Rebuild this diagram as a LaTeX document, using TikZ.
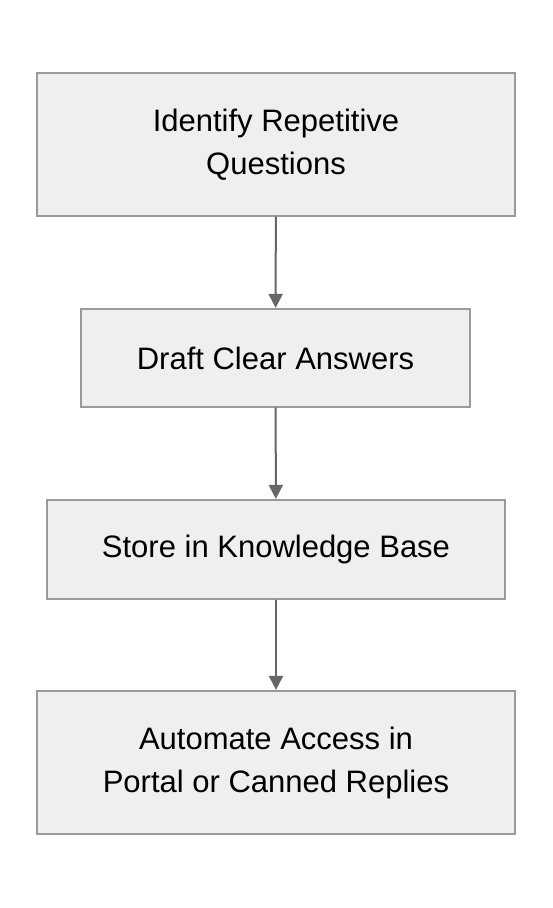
\documentclass[tikz,border=0pt]{standalone}
\usepackage{fontspec}
\setmainfont{Liberation Sans}
\usetikzlibrary{arrows.meta}
\definecolor{boxfill}{HTML}{EFEFEF}
\definecolor{boxline}{HTML}{9A9A9A}
\definecolor{arrowcol}{HTML}{666666}
\tikzset{
    stepbox/.style={draw=boxline, fill=boxfill, line width=1.2pt, align=center, inner sep=0pt,
        font=\fontsize{31}{43}\selectfont},
    flow/.style={-{Triangle[width=14pt,length=14pt]}, draw=arrowcol, fill=arrowcol, line width=2pt, shorten >=0.5pt}
}
\begin{document}
\begin{tikzpicture}[x=1pt,y=-1pt]
        \useasboundingbox (0,0) rectangle (552,908);
        \node[stepbox, minimum width=478pt, minimum height=143pt] (identify) at (276,144.5) {Identify Repetitive\\Questions};
        \node[stepbox, minimum width=389pt, minimum height=98pt] (draft) at (275.5,358) {Draft Clear Answers};
        \node[stepbox, minimum width=458pt, minimum height=99pt] (store) at (276,549.5) {Store in Knowledge Base};
        \node[stepbox, minimum width=478pt, minimum height=143pt] (automate) at (276,762.5) {Automate Access in\\Portal or Canned Replies};
        \draw[flow] (identify) -- (draft);
        \draw[flow] (draft) -- (store);
        \draw[flow] (store) -- (automate);
    \end{tikzpicture}
\end{document}
